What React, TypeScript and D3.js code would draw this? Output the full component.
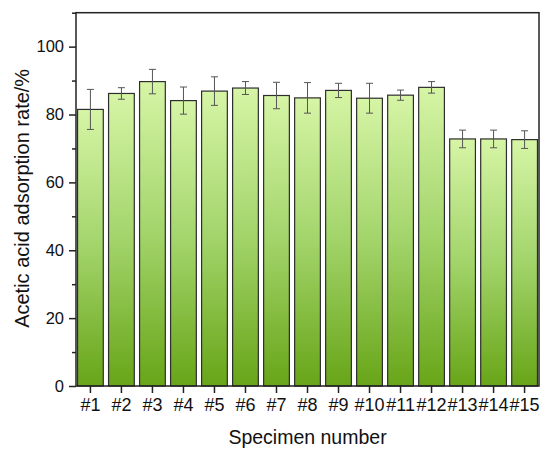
import React, { useEffect, useRef } from 'react';
import * as d3 from 'd3';

const specimens = ['#1', '#2', '#3', '#4', '#5', '#6', '#7', '#8', '#9', '#10', '#11', '#12', '#13', '#14', '#15'];
const rates = [81.5, 86.2, 89.7, 84.1, 86.9, 87.8, 85.6, 84.9, 87.1, 84.8, 85.7, 88.0, 72.8, 72.8, 72.6];
const errors = [5.9, 1.7, 3.6, 4.0, 4.2, 1.9, 3.9, 4.5, 2.1, 4.4, 1.5, 1.7, 2.6, 2.6, 2.6];
const yTicks = [0, 20, 40, 60, 80, 100];
const yMinorTicks = [10, 30, 50, 70, 90, 110];

const App = () => {
  const ref = useRef(null);

  useEffect(() => {
    document.body.style.margin = '0';
    if (!ref.current) return;

    const width = 550;
    const height = 455;
    const left = 76;
    const right = 539;
    const top = 12.7;
    const bottom = 386;
    const font = 'Arial, "Liberation Sans", sans-serif';

    const svg = d3.select(ref.current);
    svg.selectAll('*').remove();
    svg.attr('width', width).attr('height', height);

    const defs = svg.append('defs');
    const grad = defs.append('linearGradient')
      .attr('id', 'barGrad')
      .attr('x1', 0).attr('y1', 0)
      .attr('x2', 0).attr('y2', 1);
    grad.append('stop').attr('offset', '0%').attr('stop-color', '#d6f5a6');
    grad.append('stop').attr('offset', '50%').attr('stop-color', '#a2d46a');
    grad.append('stop').attr('offset', '100%').attr('stop-color', '#68a518');

    const x = d3.scaleBand()
      .domain(specimens)
      .range([left, right])
      .paddingInner(0.17)
      .paddingOuter(0.05);

    const y = d3.scaleLinear().domain([0, 110]).range([bottom, top]);

    // bars
    svg.append('g')
      .selectAll('rect')
      .data(rates)
      .enter()
      .append('rect')
        .attr('x', (d, i) => x(specimens[i]))
        .attr('y', d => y(d))
        .attr('width', x.bandwidth())
        .attr('height', d => y(0) - y(d))
        .attr('fill', 'url(#barGrad)')
        .attr('stroke', '#2e2e2e')
        .attr('stroke-width', 1.2);

    // error bars
    const eb = svg.append('g').attr('stroke', '#555').attr('stroke-width', 1);
    rates.forEach((d, i) => {
      const cx = x(specimens[i]) + x.bandwidth() / 2;
      const hi = y(d + errors[i]);
      const lo = y(d - errors[i]);
      eb.append('line').attr('x1', cx).attr('x2', cx).attr('y1', hi).attr('y2', lo);
      eb.append('line').attr('x1', cx - 3.5).attr('x2', cx + 3.5).attr('y1', hi).attr('y2', hi);
      eb.append('line').attr('x1', cx - 3.5).attr('x2', cx + 3.5).attr('y1', lo).attr('y2', lo);
    });

    // frame
    svg.append('rect')
      .attr('x', left)
      .attr('y', top)
      .attr('width', right - left)
      .attr('height', bottom - top)
      .attr('fill', 'none')
      .attr('stroke', '#222')
      .attr('stroke-width', 1.5);

    // y axis
    const yAxis = svg.append('g')
      .attr('transform', `translate(${left},0)`)
      .call(d3.axisLeft(y).tickValues(yTicks).tickSize(7).tickPadding(5));
    yAxis.select('.domain').remove();
    yAxis.selectAll('line').attr('stroke', '#222').attr('stroke-width', 1.5);
    yAxis.selectAll('text')
      .attr('font-family', font)
      .attr('font-size', 16.5)
      .attr('fill', '#111');

    const yMinor = svg.append('g')
      .attr('transform', `translate(${left},0)`)
      .call(d3.axisLeft(y).tickValues(yMinorTicks).tickSize(4).tickFormat(() => ''));
    yMinor.select('.domain').remove();
    yMinor.selectAll('line').attr('stroke', '#222').attr('stroke-width', 1.5);

    // x axis
    const xAxis = svg.append('g')
      .attr('transform', `translate(0,${bottom})`)
      .call(d3.axisBottom(x).tickSize(7).tickPadding(5));
    xAxis.select('.domain').remove();
    xAxis.selectAll('line').attr('stroke', '#222').attr('stroke-width', 1.5);
    xAxis.selectAll('text')
      .attr('font-family', font)
      .attr('font-size', 18)
      .attr('fill', '#111');

    // axis titles
    svg.append('text')
      .attr('x', (left + right) / 2)
      .attr('y', 444)
      .attr('text-anchor', 'middle')
      .attr('font-family', font)
      .attr('font-size', 19.5)
      .attr('fill', '#111')
      .text('Specimen number');

    svg.append('text')
      .attr('transform', `translate(29,${(top + bottom) / 2 - 1}) rotate(-90)`)
      .attr('text-anchor', 'middle')
      .attr('font-family', font)
      .attr('font-size', 20)
      .attr('fill', '#111')
      .text('Acetic acid adsorption rate/%');
  }, []);

  return <svg ref={ref} style={{ display: 'block' }} />;
};

export default App;
